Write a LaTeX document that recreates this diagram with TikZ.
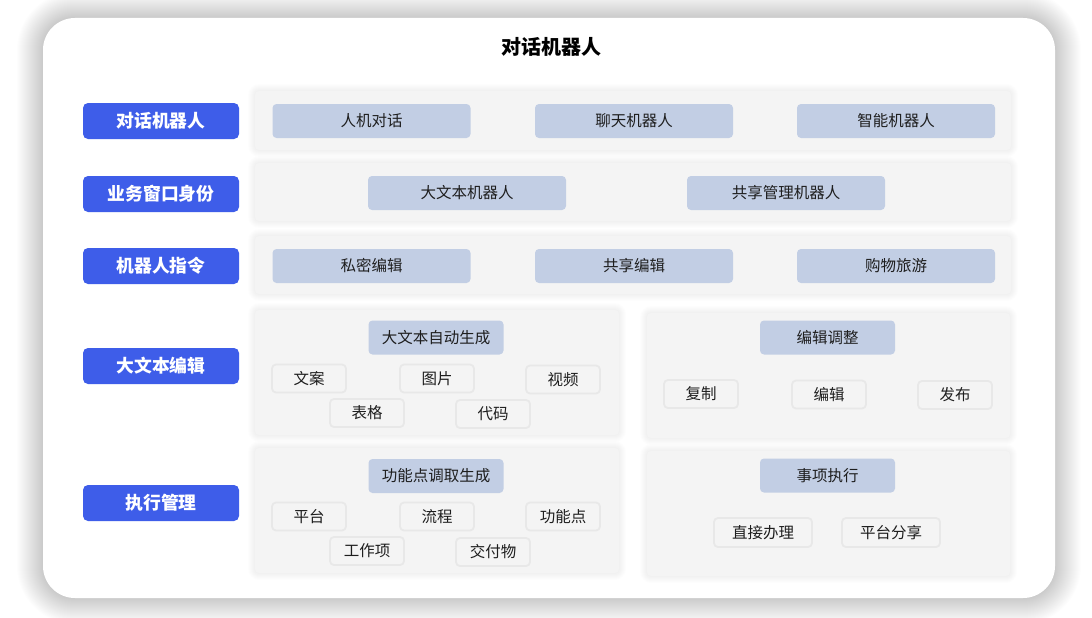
\documentclass[tikz,border=0pt]{standalone}
\usepackage{fontspec}
\setmainfont{Noto Sans CJK SC}
\definecolor{lblue}{HTML}{3E5DE9}
\definecolor{itemc}{HTML}{C2CEE4}
\definecolor{panelc}{HTML}{F4F4F4}
\definecolor{smallb}{HTML}{E8E8E8}
\definecolor{txt}{HTML}{1E1E1E}
\newcommand\softshadow[7]{%
  \foreach \i [evaluate=\i as \rr using #5+\i] in {1,...,#6}
    \fill[black, opacity=#7, rounded corners=\rr pt] ({#1-\i},{#2-\i}) rectangle ({#3+\i},{#4+\i});
}
\tikzset{
  lab/.style={fill=lblue, rounded corners=5pt, minimum width=156pt, minimum height=36pt, text=white, font=\fontsize{17.8}{17.8}\selectfont\bfseries, inner sep=0pt},
  panel/.style={fill=panelc, rounded corners=4pt, inner sep=0pt},
  item/.style={fill=itemc, rounded corners=4pt, minimum width=198pt, minimum height=34pt, text=txt, font=\fontsize{15.5}{15.5}\selectfont, inner sep=0pt},
  head/.style={item, minimum width=135pt},
  small/.style={fill=panelc, draw=smallb, line width=1.8pt, rounded corners=4pt, minimum width=74pt, minimum height=28pt, text=txt, font=\fontsize{15.5}{15.5}\selectfont, inner sep=0pt},
}
\begin{document}
\begin{tikzpicture}[x=1pt,y=-1pt]
\useasboundingbox (0,0) rectangle (1092,618);
\softshadow{43}{18}{1055}{598}{32}{26}{0.009}
\fill[white, rounded corners=32pt] (43,18) rectangle (1055,598);
\node[font=\fontsize{20}{20}\selectfont\bfseries, text=black] (title) at (551,47) {对话机器人};
% left labels
\node[lab] (l1) at (161,121) {对话机器人};
\node[lab] (l2) at (161,194) {业务窗口身份};
\node[lab] (l3) at (161,266) {机器人指令};
\node[lab] (l4) at (161,366) {大文本编辑};
\node[lab] (l5) at (161,503) {执行管理};
% panel shadows
\softshadow{255}{91}{1011}{150}{4}{7}{0.007}
\softshadow{255}{163}{1011}{221}{4}{7}{0.007}
\softshadow{255}{236}{1011}{294}{4}{7}{0.007}
\softshadow{255}{310}{619}{435}{4}{7}{0.007}
\softshadow{647}{313}{1010}{438}{4}{7}{0.007}
\softshadow{255}{448}{619}{573}{4}{7}{0.007}
\softshadow{647}{451}{1010}{576}{4}{7}{0.007}
% panels
\node[panel, minimum width=756pt, minimum height=59pt] (p1) at (633,120.5) {};
\node[panel, minimum width=756pt, minimum height=58pt] (p2) at (633,192) {};
\node[panel, minimum width=756pt, minimum height=58pt] (p3) at (633,265) {};
\node[panel, minimum width=364pt, minimum height=125pt] (p4l) at (437,372.5) {};
\node[panel, minimum width=363pt, minimum height=125pt] (p4r) at (828.5,375.5) {};
\node[panel, minimum width=364pt, minimum height=125pt] (p5l) at (437,510.5) {};
\node[panel, minimum width=363pt, minimum height=125pt] (p5r) at (828.5,513.5) {};
% row items
\node[item] (a1) at (371.5,121) {人机对话};
\node[item] (a2) at (634,121) {聊天机器人};
\node[item] (a3) at (896,121) {智能机器人};
\node[item] (b1) at (467,193) {大文本机器人};
\node[item] (b2) at (786,193) {共享管理机器人};
\node[item] (c1) at (371.5,266) {私密编辑};
\node[item] (c2) at (634,266) {共享编辑};
\node[item] (c3) at (896,266) {购物旅游};
% panel 4
\node[head] (h4l) at (436,337.5) {大文本自动生成};
\node[small] (s1) at (309,378.5) {文案};
\node[small] (s2) at (437,378.5) {图片};
\node[small] (s3) at (563,379.5) {视频};
\node[small] (s4) at (367,413) {表格};
\node[small] (s5) at (493,414) {代码};
\node[head] (h4r) at (827.5,337.5) {编辑调整};
\node[small] (r1) at (701,394) {复制};
\node[small] (r2) at (829,394.5) {编辑};
\node[small] (r3) at (955,395) {发布};
% panel 5
\node[head] (h5l) at (436,476) {功能点调取生成};
\node[small] (t1) at (309,516.5) {平台};
\node[small] (t2) at (437,516.5) {流程};
\node[small] (t3) at (563,516.5) {功能点};
\node[small] (t4) at (367,551) {工作项};
\node[small] (t5) at (493,552) {交付物};
\node[head] (h5r) at (827.5,475.5) {事项执行};
\node[small, minimum width=98pt, minimum height=29pt] (u1) at (763,532.5) {直接办理};
\node[small, minimum width=98pt, minimum height=29pt] (u2) at (891,532.5) {平台分享};
\end{tikzpicture}
\end{document}
